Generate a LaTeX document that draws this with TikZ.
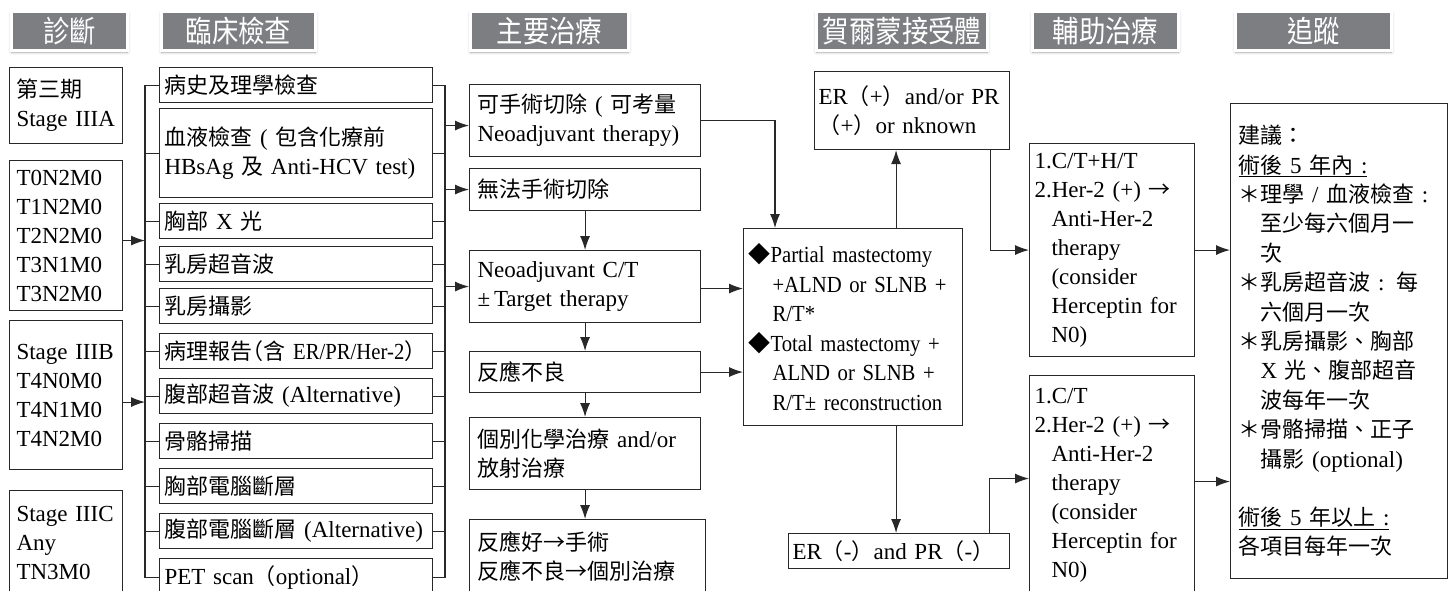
\documentclass[tikz,border=0pt]{standalone}
\usepackage{fontspec}
\setmainfont{Liberation Serif}
\newfontfamily\zhfont{Noto Sans CJK TC}
\newfontfamily\zhhfont[RawFeature=+halt]{Noto Sans CJK TC}
\newfontfamily\hdfont[FakeStretch=0.88]{Noto Sans CJK TC}
\newfontfamily\condfont[FakeStretch=0.9]{Liberation Serif}
\usetikzlibrary{arrows.meta,shadows.blur}
\definecolor{hdgray}{RGB}{125,126,130}
\definecolor{linegray}{RGB}{40,40,40}
\newcommand{\zh}[1]{{\zhfont\fontsize{22}{29}\selectfont #1}}
\newcommand{\zhh}[1]{{\zhhfont\fontsize{22}{29}\selectfont #1}}

\tikzset{
  box/.style={draw=linegray, line width=1.1pt, anchor=north west, align=left,
    inner xsep=6pt, inner ysep=0pt, font=\fontsize{23}{29}\selectfont},
  hdr/.style={fill=hdgray, draw=white, line width=3pt, text=white, inner sep=0pt,
    minimum height=39pt, font=\hdfont\fontsize{30}{32}\selectfont,
    blur shadow={shadow xshift=0pt, shadow yshift=-1.5pt, shadow blur radius=3pt, shadow opacity=35}},
  ln/.style={draw=linegray, line width=1.1pt},
  arr/.style={ln, -{Latex[length=14pt,width=10pt]}},
}

\begin{document}
\begin{tikzpicture}[x=1pt, y=-1pt]
    \clip (0,0) rectangle (1448,590);

    % column headers
    \node[hdr, minimum width=116pt] (hd1) at (69.5,31) {診斷};
    \node[hdr, minimum width=154pt] (hd2) at (238.5,31) {臨床檢查};
    \node[hdr, minimum width=158pt] (hd3) at (549.5,31) {主要治療};
    \node[hdr, minimum width=171pt] (hd4) at (902,31) {賀爾蒙接受體};
    \node[hdr, minimum width=146pt] (hd5) at (1105.5,31) {輔助治療};
    \node[hdr, minimum width=156pt] (hd6) at (1313.5,31) {追蹤};

    % stages
    \node[box, inner xsep=7pt, text width=99pt, minimum height=76pt] (stA) at (9,67) {\zh{第三期}\\Stage IIIA};
    \node[box, inner xsep=7pt, text width=99pt, minimum height=150pt] (stB) at (9,160) {T0N2M0\\T1N2M0\\T2N2M0\\T3N1M0\\T3N2M0};
    \node[box, inner xsep=7pt, text width=99pt, minimum height=149pt] (stC) at (9,320) {Stage IIIB\\T4N0M0\\T4N1M0\\T4N2M0};
    \node[box, inner xsep=7pt, text width=99pt, minimum height=104pt] (stD) at (9,490) {Stage IIIC\\Any\\TN3M0};

    % clinical checks
    \begin{scope}[every node/.append style={box, inner xsep=5pt, text width=263pt, minimum height=35pt}]
        \node (chk1) at (159,67) {\zh{病史及理學檢查}};
        \node[minimum height=89pt] (chk2) at (159,108) {\zh{血液檢查} ( \zh{包含化療前}\\HBsAg \zh{及} Anti-HCV test)};
        \node (chk3) at (159,203) {\zh{胸部} X \zh{光}};
        \node (chk4) at (159,246) {\zh{乳房超音波}};
        \node (chk5) at (159,288) {\zh{乳房攝影}};
        \node (chk6) at (159,333) {\mbox{\zh{病理報告}\zhh{（}\zh{含} {\condfont ER/PR/Her-2}\zhh{）}}};
        \node (chk7) at (159,378) {\zh{腹部超音波} (Alternative)};
        \node (chk8) at (159,423) {\zh{骨骼掃描}};
        \node (chk9) at (159,468) {\zh{胸部電腦斷層}};
        \node (chk10) at (159,513) {\zh{腹部電腦斷層} (Alternative)};
        \node[minimum height=38pt] (chk11) at (159,558) {PET scan\zh{（}optional\zh{）}};
    \end{scope}

    % primary treatment
    \begin{scope}[every node/.append style={box, inner xsep=8pt, text width=215pt}]
        \node[minimum height=72pt] (tr1) at (469,84) {\zh{可手術切除} ( \zh{可考量}\\Neoadjuvant therapy)};
        \node[minimum height=42pt] (tr2) at (469,168) {\zh{無法手術切除}};
        \node[minimum height=72pt] (tr3) at (469,250) {Neoadjuvant C/T\\±\,Target therapy};
        \node[minimum height=41pt] (tr4) at (469,351) {\zh{反應不良}};
        \node[minimum height=72pt] (tr5) at (469,417) {\zh{個別化學治療} and/or\\\zh{放射治療}};
        \node[minimum height=73pt, text width=220pt] (tr6) at (469,519) {\zh{反應好→手術}\\\zh{反應不良→個別治療}};
    \end{scope}

    % surgery
    \node[box, inner xsep=5pt, text width=209pt, minimum height=197pt, font=\condfont\fontsize{23}{29.5}\selectfont] (sx) at (743,228)
        {\zh{◆}Partial mastectomy\\\hspace*{24pt}+ALND or SLNB +\\\hspace*{24pt}R/T*\\\zh{◆}Total mastectomy +\\\hspace*{24pt}ALND or SLNB +\\\hspace*{24pt}R/T± reconstruction};

    % hormone receptors
    \node[box, inner xsep=4pt, text width=187pt, minimum height=78pt] (erp) at (814,71) {ER\zh{（}+\zh{）}and/or PR\\\zh{（}+\zh{）}or nknown};
    \node[box, inner xsep=4pt, text width=213pt, minimum height=35pt] (ern) at (788,533) {ER\zh{（}-\zh{）}and PR\zh{（}-\zh{）}};

    % adjuvant
    \node[box, inner xsep=5pt, text width=155pt, minimum height=213pt] (adj1) at (1029,143)
        {1.C/T+H/T\\2.Her-2 (+) \zh{→}\\\hspace*{17pt}Anti-Her-2\\\hspace*{17pt}therapy\\\hspace*{17pt}(consider\\\hspace*{17pt}Herceptin for\\\hspace*{17pt}N0)};
    \node[box, inner xsep=5pt, text width=155pt, minimum height=220pt] (adj2) at (1029,375)
        {1.C/T\\2.Her-2 (+) \zh{→}\\\hspace*{17pt}Anti-Her-2\\\hspace*{17pt}therapy\\\hspace*{17pt}(consider\\\hspace*{17pt}Herceptin for\\\hspace*{17pt}N0)};

    % follow-up
    \node[box, inner xsep=8pt, text width=201pt, minimum height=475pt, font=\fontsize{23}{29.4}\selectfont] (fol) at (1230,103)
        {\zh{建議：}\\\underline{\zh{術後} 5 \zh{年內} :}\\\zh{＊理學} / \zh{血液檢查} :\\\hspace*{22pt}\zh{至少每六個月一}\\\hspace*{22pt}\zh{次}\\
         \zh{＊乳房超音波} : \zh{每}\\\hspace*{22pt}\zh{六個月一次}\\\zh{＊乳房攝影、胸部}\\\hspace*{22pt}X \zh{光、腹部超音}\\\hspace*{22pt}\zh{波每年一次}\\
         \zh{＊骨骼掃描、正子}\\\hspace*{22pt}\zh{攝影} (optional)\\[29pt]\underline{\zh{術後} 5 \zh{年以上} :}\\\zh{各項目每年一次}};

    % brackets round the checks
    \coordinate (lb) at (145,0);
    \coordinate (rb) at (445,0);
    \foreach \i in {1,...,11} {
        \draw[ln] (chk\i.west) -- (chk\i.west -| lb);
        \draw[ln] (chk\i.east) -- (chk\i.east -| rb);
    }
    \draw[ln] (chk1.west -| lb) -- (chk11.west -| lb);
    \draw[ln] (chk1.east -| rb) -- (chk11.east -| rb);

    % connectors
    \draw[arr] ([yshift=-5pt]stB.east) -- ([yshift=-5pt]stB.east -| lb);
    \draw[arr] ([yshift=-7pt]stC.east) -- ([yshift=-7pt]stC.east -| lb);
    \draw[arr] ([yshift=-5pt]tr1.west -| rb) -- ([yshift=-5pt]tr1.west);
    \draw[arr] (tr2.west -| rb) -- (tr2.west);
    \draw[arr] (tr3.west -| rb) -- (tr3.west);
    \draw[arr] (tr2.south) -- (tr3.north);
    \draw[arr] (tr3.south) -- (tr4.north);
    \draw[arr] (tr4.south) -- (tr5.north);
    \draw[arr] (tr5.south) -- (tr5.south |- tr6.north);
    \draw[arr] (tr1.east) -| ([xshift=32pt]sx.north west);
    \draw[arr] ([yshift=-2pt]tr3.east) -- ([yshift=-2pt]tr3.east -| sx.west);
    \draw[arr] (tr4.east) -- (tr4.east -| sx.west);
    \draw[arr] ([xshift=43pt]sx.north) -- ([xshift=43pt]sx.north |- erp.south);
    \draw[arr] ([xshift=43pt]sx.south) -- ([xshift=43pt]sx.south |- ern.north);
    \draw[arr] ([xshift=-20pt]erp.south east) |- (adj1.west);
    \draw[arr] ([xshift=-21pt]ern.north east) |- ([yshift=7pt]adj2.west);
    \draw[arr] (adj1.east) -- (adj1.east -| fol.west);
    \draw[arr] ([yshift=4pt]adj2.east) -- ([yshift=4pt]adj2.east -| fol.west);
\end{tikzpicture}
\end{document}
